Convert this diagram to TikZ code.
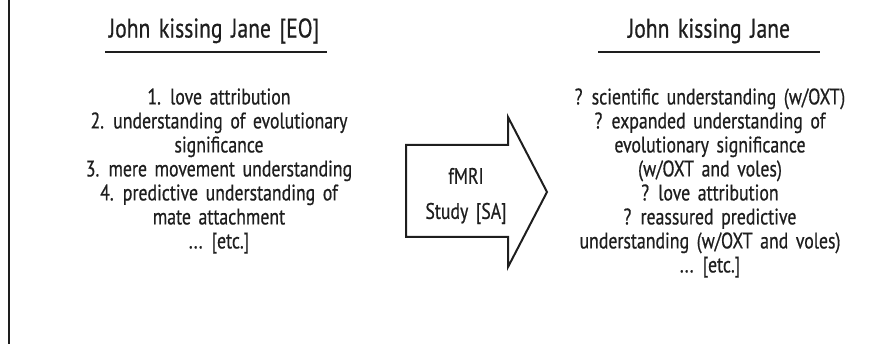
\documentclass[tikz,border=0pt]{standalone}
\usepackage{fontspec}
\setmainfont{PT Sans}[FakeStretch=0.79, FakeBold=0.6, WordSpace=1.6]
\newfontfamily\titlefont{PT Sans}[FakeStretch=0.8, FakeBold=0.6, WordSpace=1.5]
\definecolor{ink}{HTML}{1E1E1E}
\begin{document}
\begin{tikzpicture}[x=1pt,y=-1pt,
  every node/.style={text=ink, inner sep=0pt},
  title/.style={font=\titlefont\fontsize{27}{30}\selectfont},
  body/.style={font=\fontsize{22.5}{24}\selectfont, align=center},
  rule/.style={draw=ink, line width=1.2pt},
  frame/.style={draw=ink, line width=2.5pt},
  bigarrow/.style={draw=ink, line width=2pt, line join=miter}]
\useasboundingbox (0,0) rectangle (885,344);
\draw[frame] (9,0) -- (9,344);
% left column
\node[title] (lt) at (214,31) {John kissing Jane [EO]};
\coordinate (lul) at (105,52); \coordinate (lur) at (327,52);
\draw[rule] (lul) -- (lur);
\node[body] (lb) at (219,171) {1. love attribution\\
2. understanding of evolutionary\\
significance\\
3. mere movement understanding\\
4. predictive understanding of\\
mate attachment\\
... [etc.]};
% right column
\node[title] (rt) at (709,31) {John kissing Jane};
\coordinate (rul) at (598,52); \coordinate (rur) at (820,52);
\draw[rule] (rul) -- (rur);
\node[body] (rb) at (710,183) {? scientific understanding (w/OXT)\\
? expanded understanding of\\
evolutionary significance\\
(w/OXT and voles)\\
? love attribution\\
? reassured predictive\\
understanding (w/OXT and voles)\\
... [etc.]};
% arrow
\coordinate (a1) at (406,145); \coordinate (a2) at (508,145);
\coordinate (a3) at (508,117); \coordinate (a4) at (547,192);
\coordinate (a5) at (508,267); \coordinate (a6) at (508,237);
\coordinate (a7) at (406,237);
\draw[bigarrow] (a1) -- (a2) -- (a3) -- (a4) -- (a5) -- (a6) -- (a7) -- cycle;
\node[body, font=\fontsize{22.5}{35}\selectfont] (ar) at (466,196) {fMRI\\Study [SA]};
\end{tikzpicture}
\end{document}
